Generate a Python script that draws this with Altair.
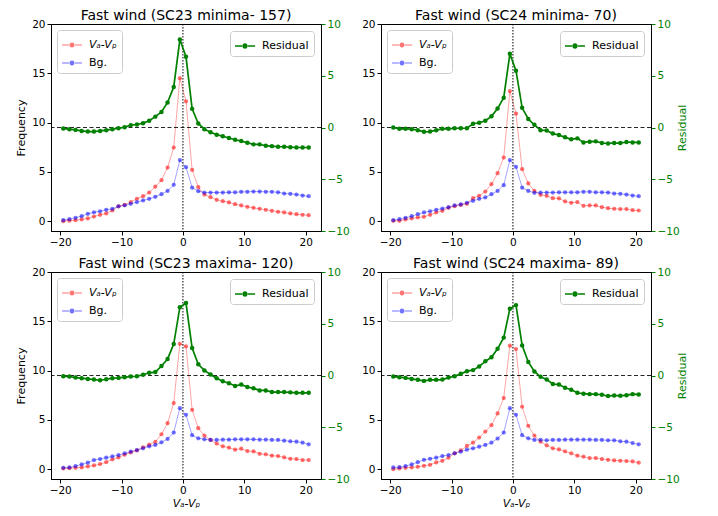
import altair as alt
import pandas as pd

# Bin centres (V_a - V_p)
X = [-19.5, -18.5, -17.5, -16.5, -15.5, -14.5, -13.5, -12.5, -11.5, -10.5,
     -9.5, -8.5, -7.5, -6.5, -5.5, -4.5, -3.5, -2.5, -1.5, -0.5,
     0.5, 1.5, 2.5, 3.5, 4.5, 5.5, 6.5, 7.5, 8.5, 9.5,
     10.5, 11.5, 12.5, 13.5, 14.5, 15.5, 16.5, 17.5, 18.5, 19.5, 20.5]

# SC23 minima
red_23min = [0.0, 0.05, 0.1, 0.17, 0.27, 0.47, 0.64, 0.78, 1.08, 1.5,
             1.65, 1.93, 2.26, 2.53, 2.9, 3.5, 4.15, 5.44, 7.47, 14.5,
             12.16, 5.2, 3.45, 2.7, 2.43, 2.16, 2.03, 1.9, 1.72, 1.59,
             1.45, 1.35, 1.25, 1.15, 1.05, 0.95, 0.88, 0.78, 0.71, 0.64, 0.6]
bg_23min = [0.1, 0.2, 0.34, 0.5, 0.74, 0.9, 1.0, 1.15, 1.25, 1.5,
            1.6, 1.76, 1.93, 2.1, 2.26, 2.47, 2.74, 3.07, 3.68, 6.2,
            5.47, 3.4, 3.04, 2.9, 2.9, 2.9, 2.9, 2.93, 2.93, 2.97,
            2.97, 3.0, 3.0, 2.97, 2.97, 2.93, 2.8, 2.77, 2.7, 2.6, 2.53]
res_23min = [-0.1, -0.16, -0.23, -0.33, -0.39, -0.39, -0.33, -0.26, -0.16, -0.07,
             0.03, 0.23, 0.29, 0.42, 0.65, 1.05, 1.5, 2.42, 3.92, 8.5,
             6.83, 1.8, 0.39, -0.16, -0.46, -0.69, -0.85, -1.01, -1.18, -1.31,
             -1.47, -1.63, -1.63, -1.76, -1.8, -1.86, -1.86, -1.9, -1.93, -1.93, -1.93]

# SC24 minima
red_24min = [0.03, 0.03, 0.17, 0.27, 0.37, 0.44, 0.64, 0.88, 1.05, 1.35,
             1.52, 1.65, 1.76, 2.33, 2.57, 3.0, 3.75, 4.86, 6.45, 13.2,
             10.9, 5.27, 3.82, 3.07, 2.67, 2.57, 2.33, 2.3, 2.0, 1.86,
             1.93, 1.55, 1.59, 1.59, 1.42, 1.32, 1.25, 1.22, 1.22, 1.11, 1.08]
bg_24min = [0.1, 0.2, 0.34, 0.5, 0.7, 0.88, 1.0, 1.15, 1.28, 1.42,
            1.59, 1.69, 1.86, 2.06, 2.26, 2.4, 2.74, 3.07, 3.65, 6.2,
            5.5, 3.4, 3.07, 2.87, 2.9, 2.9, 2.9, 2.93, 2.93, 2.93,
            2.93, 2.97, 2.97, 2.93, 2.93, 2.9, 2.8, 2.77, 2.7, 2.6, 2.53]
res_24min = [0.0, -0.13, -0.13, -0.16, -0.26, -0.42, -0.39, -0.26, -0.13, -0.13,
             -0.07, -0.07, -0.07, 0.36, 0.46, 0.65, 1.08, 1.83, 2.88, 7.12,
             5.49, 1.9, 0.82, 0.26, -0.26, -0.29, -0.59, -0.72, -0.95, -1.14,
             -1.05, -1.44, -1.37, -1.34, -1.5, -1.54, -1.5, -1.5, -1.4, -1.44, -1.44]

# SC23 maxima
red_23max = [0.07, 0.1, 0.14, 0.17, 0.27, 0.37, 0.51, 0.71, 0.99, 1.19,
             1.46, 1.7, 1.9, 2.21, 2.48, 2.76, 3.54, 4.66, 6.7, 12.72,
             12.45, 6.02, 4.15, 3.4, 2.96, 2.59, 2.31, 2.18, 1.97, 2.07,
             1.84, 1.8, 1.56, 1.5, 1.36, 1.33, 1.19, 1.05, 1.02, 0.92, 0.92]
bg_23max = [0.14, 0.17, 0.31, 0.48, 0.65, 0.92, 1.02, 1.16, 1.29, 1.43,
            1.6, 1.77, 1.94, 2.11, 2.31, 2.45, 2.72, 3.06, 3.71, 6.19,
            5.51, 3.44, 3.13, 3.03, 2.96, 2.96, 2.99, 2.99, 3.03, 3.03,
            3.03, 3.03, 2.99, 2.99, 2.96, 2.96, 2.89, 2.82, 2.79, 2.69, 2.52]
res_23max = [-0.07, -0.1, -0.2, -0.26, -0.33, -0.39, -0.46, -0.36, -0.26, -0.23,
             -0.16, -0.1, -0.07, 0.07, 0.26, 0.33, 0.92, 1.6, 3.04, 6.6,
             7.0, 2.65, 1.08, 0.49, 0.1, -0.26, -0.56, -0.75, -1.01, -0.88,
             -1.11, -1.24, -1.44, -1.44, -1.6, -1.6, -1.6, -1.63, -1.67, -1.67, -1.67]

# SC24 maxima
red_24max = [0.0, 0.07, 0.14, 0.17, 0.24, 0.34, 0.44, 0.68, 0.85, 1.16,
             1.6, 1.9, 2.35, 2.69, 3.2, 3.81, 4.46, 5.65, 7.21, 12.52,
             12.18, 6.33, 4.39, 3.4, 2.79, 2.41, 2.11, 2.0, 1.8, 1.6,
             1.36, 1.26, 1.12, 1.12, 1.02, 0.95, 0.88, 0.85, 0.82, 0.78, 0.65]
bg_24max = [0.17, 0.2, 0.31, 0.48, 0.71, 0.95, 1.05, 1.16, 1.33, 1.43,
            1.6, 1.77, 1.97, 2.11, 2.28, 2.45, 2.69, 3.1, 3.71, 6.19,
            5.51, 3.44, 3.13, 2.96, 2.96, 2.93, 2.96, 2.96, 2.99, 2.99,
            2.99, 2.99, 2.99, 2.96, 2.96, 2.93, 2.93, 2.82, 2.79, 2.65, 2.52]
res_24max = [-0.1, -0.16, -0.23, -0.33, -0.42, -0.52, -0.42, -0.42, -0.39, -0.2,
             -0.07, 0.16, 0.42, 0.52, 0.88, 1.37, 1.76, 2.58, 3.66, 6.44,
             6.8, 2.91, 1.31, 0.39, -0.13, -0.39, -0.82, -0.88, -1.18, -1.37,
             -1.67, -1.76, -1.8, -1.8, -1.86, -1.99, -1.93, -1.96, -1.9, -1.8, -1.83]

TITLES = ["Fast wind (SC23 minima- 157)", "Fast wind (SC24 minima- 70)",
          "Fast wind (SC23 maxima- 120)", "Fast wind (SC24 maxima- 89)"]
SERIES = ["Vₐ-Vₚ", "Bg."]
RES_NAME = "Residual"
X_TITLE = "Vₐ-Vₚ"
XTICKS = [-20, -10, 0, 10, 20]
LTICKS = [0, 5, 10, 15, 20]
RTICKS = [-10, -5, 0, 5, 10]

FONT = "DejaVu Sans"
W, H = 270, 207

# legend glyphs: short line with a dot (all filled shapes)
THIN = ("M-1,-0.05H-0.3V0.05H-1Z M0.3,-0.05H1V0.05H0.3Z "
        "M-0.25,0A0.25,0.25,0,1,0,0.25,0A0.25,0.25,0,1,0,-0.25,0Z")
THICK = ("M-1,-0.08H-0.3V0.08H-1Z M0.3,-0.08H1V0.08H0.3Z "
         "M-0.27,0A0.27,0.27,0,1,0,0.27,0A0.27,0.27,0,1,0,-0.27,0Z")

legend_common = dict(title=None, fillColor="white", strokeColor="#cccccc",
                     cornerRadius=3, padding=5, labelFontSize=11, labelFont=FONT,
                     symbolSize=400, rowPadding=3, labelOffset=7,
                     symbolStrokeWidth=0, labelColor="black")


def panel(title, red, bg, res, left_title, right_title, x_title):
    xaxis = alt.Axis(values=XTICKS, title=x_title, titleFontStyle="italic",
                     titlePadding=2)
    xenc = alt.X("x:Q", scale=alt.Scale(domain=[-21.5, 22.5], nice=False, zero=False),
                 axis=xaxis)
    yl = alt.Y("v:Q", scale=alt.Scale(domain=[-1, 20], nice=False, zero=False),
               axis=alt.Axis(values=LTICKS, orient="left", title=left_title,
                             titlePadding=5))
    cscale = alt.Scale(domain=SERIES, range=["red", "blue"])

    df_red = pd.DataFrame({"x": X, "v": red, "s": [SERIES[0]] * len(X)})
    df_bg = pd.DataFrame({"x": X, "v": bg, "s": [SERIES[1]] * len(X)})
    df_all = pd.concat([df_red, df_bg], ignore_index=True)

    line_red = alt.Chart(df_red).mark_line(color="red", strokeWidth=0.8, opacity=0.45).encode(
        x=xenc, y=yl)
    line_bg = alt.Chart(df_bg).mark_line(color="blue", strokeWidth=0.8, opacity=0.45).encode(
        x=xenc, y=yl)
    pts_rb = alt.Chart(df_all).mark_circle(size=18, opacity=0.55).encode(
        x=xenc, y=yl,
        color=alt.Color("s:N", scale=cscale,
                        legend=alt.Legend(orient="top-left", offset=6,
                                          symbolType=THIN, symbolOpacity=0.55,
                                          labelFontStyle=alt.ExprRef(
                                              "datum.label == 'Bg.' ? 'normal' : 'italic'"),
                                          **legend_common)))
    vrule = alt.Chart(pd.DataFrame({"x": [0]})).mark_rule(
        color="black", strokeDash=[1.5, 1.5], strokeWidth=1).encode(x=xenc)
    left = alt.layer(line_red, line_bg, pts_rb, vrule)

    dfr = pd.DataFrame({"x": X, "resid": res, "g": [RES_NAME] * len(X)})
    yr = alt.Y("resid:Q", scale=alt.Scale(domain=[-10, 10], nice=False, zero=False),
               axis=alt.Axis(values=RTICKS, orient="right", title=right_title,
                             labelColor="green", tickColor="green",
                             titleColor="green", titleAngle=270, titlePadding=8))
    hrule = alt.Chart(pd.DataFrame({"resid": [0]})).mark_rule(
        color="black", strokeDash=[4, 2.5], strokeWidth=1, opacity=0.85).encode(y=yr)
    line_g = alt.Chart(dfr).mark_line(color="green", strokeWidth=1.7).encode(x=xenc, y=yr)
    pts_g = alt.Chart(dfr).mark_circle(size=20, opacity=1).encode(
        x=xenc, y=yr,
        color=alt.Color("g:N", scale=alt.Scale(domain=[RES_NAME], range=["green"]),
                        legend=alt.Legend(orient="top-right", offset=7,
                                          symbolType=THICK, symbolOpacity=1,
                                          **legend_common)))
    right = alt.layer(hrule, line_g, pts_g)

    return alt.layer(left, right).resolve_scale(
        y="independent", color="independent").properties(
        width=W, height=H,
        title=alt.TitleParams(title, fontSize=14, fontWeight="normal", font=FONT,
                              offset=-4, color="black"))


p1 = panel(TITLES[0], red_23min, bg_23min, res_23min, "Frequency", None, None)
p2 = panel(TITLES[1], red_24min, bg_24min, res_24min, None, "Residual", None)
p3 = panel(TITLES[2], red_23max, bg_23max, res_23max, "Frequency", None, X_TITLE)
p4 = panel(TITLES[3], red_24max, bg_24max, res_24max, None, "Residual", X_TITLE)

row1 = alt.hconcat(p1, p2, spacing=11).resolve_scale(color="independent")
row2 = alt.hconcat(p3, p4, spacing=11).resolve_scale(color="independent")

chart = alt.vconcat(row1, row2, spacing=8).resolve_scale(color="independent").properties(
    padding={"left": 7, "top": 0, "right": 0, "bottom": 0}
).configure(font=FONT).configure_view(
    stroke="black", strokeWidth=1
).configure_axis(
    grid=False, domainColor="black", tickColor="black", labelColor="black",
    labelFontSize=10.5, titleFontSize=11, titleFontWeight="normal", tickSize=4,
    labelPadding=2, labelFont=FONT, titleFont=FONT, titleColor="black"
)

chart.save("out.html", embed_options={"renderer": "svg", "actions": False})
